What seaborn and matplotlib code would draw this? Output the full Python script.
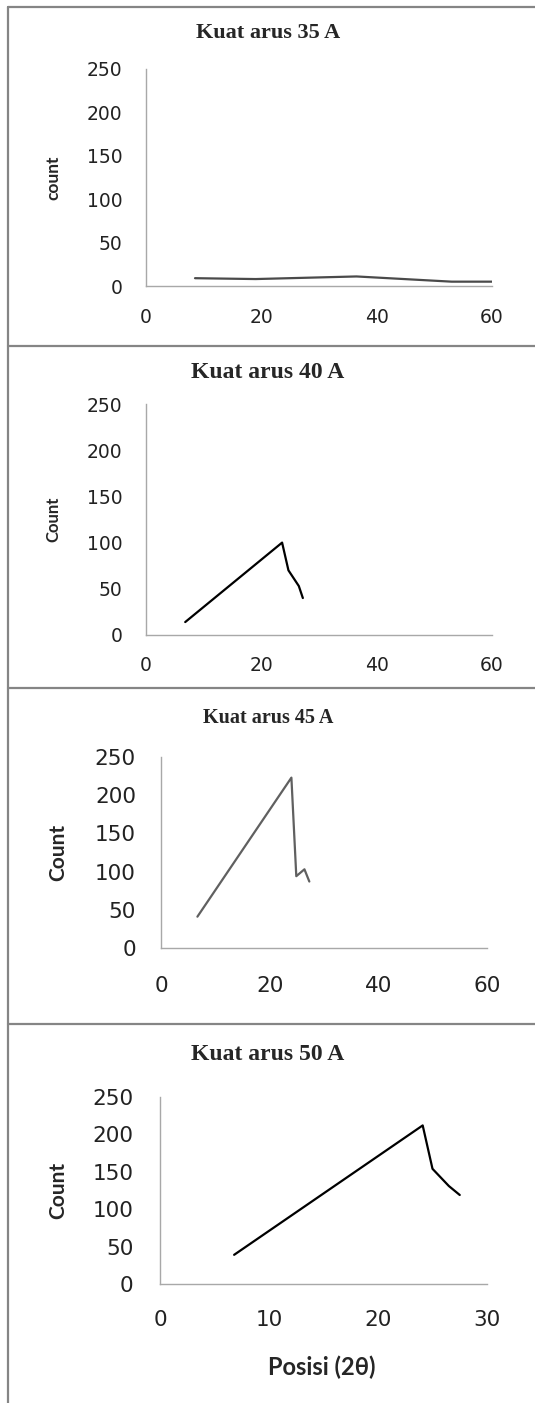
import matplotlib
matplotlib.use("Agg")
import matplotlib.pyplot as plt
from matplotlib.lines import Line2D
import seaborn as sns

# -------------------------------------------------------------
# Data
# -------------------------------------------------------------
x_35 = [8.5, 19.0, 36.5, 53.0, 60.0]
y_35 = [9, 8, 11, 5, 5]

x_40 = [6.8, 23.6, 24.7, 26.5, 27.2]
y_40 = [14, 100, 70, 53, 40]

x_45 = [6.7, 24.0, 24.9, 26.4, 27.3]
y_45 = [41, 223, 94, 103, 87]

x_50 = [6.8, 24.1, 25.0, 26.5, 27.5]
y_50 = [39, 212, 154, 131, 119]

titles = ["Kuat arus 35 A", "Kuat arus 40 A", "Kuat arus 45 A", "Kuat arus 50 A"]
ylabels = ["count", "Count", "Count", "Count"]
xlabel_last = "Posisi (2θ)"
y_ticks = [0, 50, 100, 150, 200, 250]
x_ticks_60 = [0, 20, 40, 60]
x_ticks_30 = [0, 10, 20, 30]

# -------------------------------------------------------------
# Figure
# -------------------------------------------------------------
sns.set_style("white")
plt.rcParams['font.family'] = ['DejaVu Sans']

W, H = 535, 1403
fig = plt.figure(figsize=(W / 100, H / 100), dpi=100)


def rect(left, right, top, bottom):
    return [left / W, 1 - bottom / H, (right - left) / W, (bottom - top) / H]


panels = [
    dict(x=x_35, y=y_35, box=(146, 492, 69, 286), xmax=60, xt=x_ticks_60, c="#4a4a4a",
         tsize=16, ty=33, fs=13.5, padx=16, pady=17, lsize=12.5, lx=53),
    dict(x=x_40, y=y_40, box=(146, 492, 404, 635), xmax=60, xt=x_ticks_60, c="#000000",
         tsize=17, ty=372, fs=13.5, padx=15, pady=17, lsize=12, lx=53),
    dict(x=x_45, y=y_45, box=(161, 487, 757, 948), xmax=60, xt=x_ticks_60, c="#606060",
         tsize=14.5, ty=718, fs=15.5, padx=20, pady=18, lsize=15, lx=58),
    dict(x=x_50, y=y_50, box=(160, 487, 1097, 1284), xmax=30, xt=x_ticks_30, c="#000000",
         tsize=17, ty=1055, fs=15.5, padx=19, pady=19, lsize=15, lx=58),
]

for i, p in enumerate(panels):
    ax = fig.add_axes(rect(*p["box"]))
    sns.lineplot(x=p["x"], y=p["y"], ax=ax, color=p["c"], linewidth=1.6)
    ax.set_xlim(0, p["xmax"])
    ax.set_ylim(0, 250)
    ax.set_xticks(p["xt"])
    ax.set_yticks(y_ticks)
    ax.tick_params(axis="x", length=0, pad=p["padx"], labelsize=p["fs"], colors="#222222")
    ax.tick_params(axis="y", length=0, pad=p["pady"], labelsize=p["fs"], colors="#222222")
    for s in ["top", "right"]:
        ax.spines[s].set_visible(False)
    for s in ["left", "bottom"]:
        ax.spines[s].set_color("#a8a8a8")
        ax.spines[s].set_linewidth(1.0)

    top, bottom = p["box"][2], p["box"][3]
    fig.text(268 / W, 1 - p["ty"] / H, titles[i], ha="center", va="center",
             fontsize=p["tsize"], fontweight="bold", family=["Liberation Serif", "DejaVu Serif"])
    fig.text(p["lx"] / W, 1 - (top + bottom) / 2 / H, ylabels[i], ha="center", va="center",
             rotation=90, fontsize=p["lsize"], fontweight="bold", family=["Lato", "DejaVu Sans"])

fig.text(322 / W, 1 - 1367 / H, xlabel_last, ha="center", va="center",
         fontsize=17, fontweight="bold", family=["Lato", "DejaVu Sans"])

# panel frame lines
border = "#858585"
for yy in [7, 346, 688, 1024]:
    fig.add_artist(Line2D([8 / W, 1], [1 - yy / H, 1 - yy / H], color=border, linewidth=1.6))
fig.add_artist(Line2D([8 / W, 8 / W], [1 - 7 / H, 0], color=border, linewidth=1.6))

fig.savefig("out.png", dpi=100)
